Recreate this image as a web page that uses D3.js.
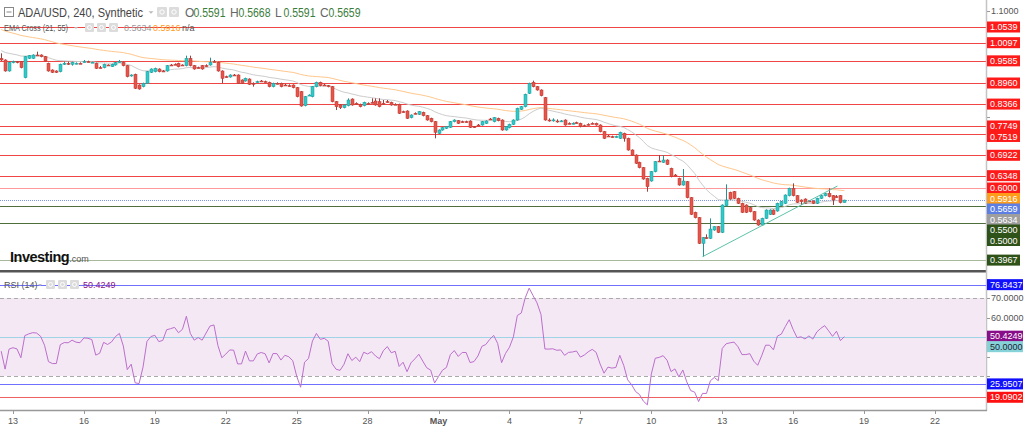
<!DOCTYPE html>
<html><head><meta charset="utf-8">
<script src="https://cdn.jsdelivr.net/npm/d3@7"></script>
<style>
body{margin:0;background:#fff;overflow:hidden}
svg{display:block;font-family:"Liberation Sans",Arial,sans-serif}
</style>
</head><body>
<svg id="c" width="1024" height="427"></svg>
<script>
// ---------------- DATA ----------------
const firstCandle = Date.UTC(2022, 3, 12, 12); // 4h candles
const candleHours = 4;
const open = [.9656,.9609,.9299,.9543,.9562,.9562,.9111,.9656,.9656,.9750,
.9750,.9703,.9515,.9327,.9299,.9280,.9506,.9515,.9487,.9515,
.9515,.9543,.9562,.9543,.9515,.9393,.9393,.9468,.9421,.9468,
.9543,.9543,.9449,.9167,.9205,.8904,.8857,.8951,.9261,.9280,
.9355,.9299,.9299,.9468,.9487,.9515,.9468,.9449,.9656,.9449,
.9393,.9449,.9449,.9468,.9562,.9543,.9299,.9139,.9130,.9186,
.9186,.9045,.9017,.9073,.8951,.8979,.9017,.8998,.8979,.8857,
.8951,.8951,.8904,.8885,.8904,.8829,.8716,.8321,.8603,.8575,
.8857,.8979,.8904,.8885,.8857,.8434,.8340,.8265,.8321,.8509,
.8387,.8359,.8321,.8387,.8415,.8453,.8434,.8387,.8434,.8415,
.8359,.8359,.8152,.8171,.7983,.8105,.8077,.8133,.8039,
.7964,.7870,.7541,.7635,.7682,.7710,.7870,.7898,.7870,.7870,
.7889,.7729,.7776,.7776,.7823,.7945,.7870,.7964,.7917,.7635,
.7701,.7795,.7917,.8218,.8293,.8669,.8979,.8857,.8763,.8547,
.7917,.7917,.7889,.7889,.7917,.7823,.7823,.7842,.7823,.7757,
.7795,.7823,.7823,.7776,.7588,.7466,.7447,.7447,.7400,.7541,
.7400,.7071,.6930,.6723,.6573,.6272,.6197,.6460,.6761,.6723,
.6789,.6554,.6366,.6272,.6084,.6178,.5727,.5313,.5163,.4439,
.4599,.4580,.4815,.4909,.4749,.5501,.5877,.5896,.5708,.5567,
.5520,.5445,.5332,.5097,.4956,.5144,.5257,.5379,.5351,.5501,
.5567,.5783,.5990,.5783,.5661,.5689,.5633,.5633,.5567,.5708,
.5783,.5849,.5783,.5755,.5783,.5591];
const high = [.9797,.9628,.9562,.9590,.9581,.9581,.9722,.9750,.9769,.9844,
.9769,.9722,.9534,.9346,.9318,.9506,.9562,.9562,.9562,.9543,
.9543,.9609,.9590,.9562,.9534,.9440,.9506,.9487,.9506,.9552,
.9609,.9562,.9468,.9205,.9224,.8923,.8970,.9299,.9374,.9393,
.9374,.9327,.9468,.9496,.9515,.9534,.9487,.9731,.9731,.9468,
.9421,.9468,.9487,.9675,.9609,.9562,.9318,.9167,.9205,.9214,
.9205,.9064,.9111,.9092,.8979,.9026,.9045,.9026,.8998,.8970,
.8979,.8970,.8932,.8923,.8923,.8848,.8735,.8594,.8641,.8876,
.8998,.8998,.8932,.8904,.8876,.8453,.8359,.8359,.8528,.8528,
.8415,.8378,.8434,.8415,.8528,.8528,.8528,.8481,.8481,.8434,
.8387,.8378,.8180,.8190,.8077,.8133,.8171,.8152,.8058,
.7983,.7889,.7654,.7720,.7748,.7889,.7936,.7917,.7898,.7898,
.7908,.7748,.7804,.7889,.7908,.7974,.8002,.7983,.7936,.7748,
.7814,.7936,.8265,.8312,.8660,.8970,.9026,.8876,.8782,.8566,
.7964,.7964,.7936,.7917,.7936,.7851,.7851,.7870,.7842,.7786,
.7823,.7851,.7842,.7795,.7607,.7494,.7475,.7475,.7588,.7560,
.7419,.7090,.6949,.6742,.6592,.6291,.6479,.6761,.6930,.6930,
.6808,.6573,.6394,.6291,.6535,.6197,.5746,.5332,.5182,.4618,
.4693,.5144,.4927,.4927,.5539,.6103,.5896,.5915,.5727,.5586,
.5539,.5464,.5351,.5116,.5163,.5398,.5398,.5398,.5586,.5633,
.5821,.6009,.6131,.5802,.5680,.5708,.5661,.5652,.5727,.5802,
.5858,.5990,.5802,.5802,.5802,.5668];
const low = [.9581,.9280,.9280,.9515,.9515,.9374,.9092,.9637,.9637,.9722,
.9684,.9562,.9280,.9242,.9242,.9261,.9468,.9468,.9449,.9487,
.9496,.9534,.9543,.9524,.9355,.9374,.9374,.9449,.9412,.9449,
.9534,.9430,.9120,.9139,.8791,.8772,.8838,.8932,.9242,.9261,
.9261,.9280,.9280,.9449,.9468,.9402,.9449,.9430,.9430,.9336,
.9374,.9336,.9421,.9449,.9543,.9280,.8951,.9111,.9111,.9158,
.8932,.8932,.8998,.8904,.8857,.8970,.8998,.8979,.8838,.8838,
.8923,.8838,.8876,.8857,.8810,.8556,.8293,.8302,.8594,.8556,
.8838,.8866,.8885,.8838,.8415,.8199,.8227,.8246,.8302,.8321,
.8359,.8274,.8302,.8359,.8387,.8321,.8274,.8359,.8406,.8321,
.8340,.8086,.8124,.7945,.7964,.8077,.8058,.8020,.7898,
.7851,.7400,.7522,.7616,.7663,.7691,.7851,.7804,.7842,.7842,
.7691,.7691,.7748,.7757,.7804,.7917,.7851,.7879,.7616,.7616,
.7682,.7776,.7898,.8199,.8274,.8650,.8838,.8744,.8584,.7898,
.7870,.7870,.7842,.7861,.7757,.7795,.7795,.7814,.7710,.7729,
.7767,.7795,.7757,.7569,.7381,.7438,.7419,.7419,.7381,.7306,
.7052,.6911,.6676,.6554,.6234,.5896,.6178,.6441,.6733,.6704,
.6648,.6300,.6338,.6065,.6065,.5708,.5238,.5144,.4420,.4063,
.4561,.4561,.4796,.4730,.4730,.5482,.5670,.5689,.5548,.5294,
.5294,.5313,.5078,.4937,.4937,.5125,.5238,.5238,.5332,.5482,
.5548,.5764,.5764,.5577,.5520,.5548,.5605,.5548,.5548,.5689,
.5764,.5736,.5520,.5727,.5567,.5591];
const close = [.9609,.9299,.9543,.9562,.9543,.9393,.9703,.9731,.9750,.9745,
.9703,.9581,.9299,.9261,.9261,.9487,.9515,.9512,.9543,.9518,
.9512,.9562,.9558,.9546,.9374,.9390,.9487,.9465,.9487,.9534,
.9562,.9449,.9139,.9186,.8810,.8791,.8951,.9280,.9355,.9374,
.9280,.9296,.9449,.9465,.9484,.9421,.9465,.9656,.9449,.9355,
.9390,.9355,.9446,.9543,.9558,.9299,.9092,.9136,.9186,.9183,
.8951,.8951,.9092,.8923,.8923,.8998,.9014,.8995,.8857,.8951,
.8948,.8857,.8901,.8882,.8829,.8575,.8312,.8575,.8620,.8857,
.8979,.8885,.8901,.8857,.8434,.8293,.8265,.8340,.8481,.8340,
.8384,.8293,.8415,.8384,.8412,.8340,.8293,.8384,.8431,.8340,
.8356,.8105,.8149,.7964,.8058,.8102,.8152,.8039,.7917,
.7870,.7569,.7635,.7701,.7729,.7870,.7917,.7823,.7867,.7866,
.7710,.7720,.7773,.7870,.7889,.7942,.7983,.7898,.7635,.7729,
.7795,.7917,.8246,.8293,.8641,.8951,.8857,.8763,.8603,.7917,
.7914,.7920,.7886,.7892,.7776,.7820,.7826,.7839,.7729,.7754,
.7792,.7820,.7776,.7588,.7400,.7463,.7444,.7450,.7569,.7400,
.7071,.6930,.6695,.6573,.6253,.6037,.6460,.6742,.6758,.6789,
.6667,.6319,.6363,.6084,.6197,.5727,.5257,.5163,.4439,.4599,
.4596,.4843,.4909,.4749,.5520,.5661,.5689,.5708,.5567,.5313,
.5313,.5332,.5097,.4956,.5144,.5379,.5379,.5257,.5567,.5614,
.5802,.5990,.5783,.5595,.5614,.5567,.5630,.5567,.5708,.5783,
.5840,.5755,.5661,.5752,.5591,.5659];

// indicator seeds (values carried in from before the first visible candle)
const ema21Seed = 0.990, ema55Seed = 1.050;
const rsiSeedGain = 0.0040, rsiSeedLoss = 0.0050;

// drawn horizontal levels (price)
const levelValues = [1.0539, 1.0097, 0.9585, 0.8960, 0.8366, 0.7749, 0.7519, 0.6922, 0.6348, 0.6000, 0.5500, 0.5000, 0.3967];
const levelKinds  = ["res","res","res","res","res","res","res","res","res","resLight","sup","sup","supLight"];
// markers on price axis
const markerValues = [0.5916, 0.5659, 0.5634];
const markerKinds  = ["ema55","price","ema21"];
const lastPrice = 0.5659;
const priceTicks = [1.1, 1.0, 0.9, 0.8, 0.7, 0.6, 0.5, 0.4];

// trend line drawing
const trendDates  = [Date.UTC(2022, 4, 12, 4), Date.UTC(2022, 4, 17, 21)];
const trendPrices = [0.4063, 0.6056];

// RSI panel
const rsiLevelValues = [76.8437, 25.9507, 19.0902];
const rsiLevelKinds  = ["blue","blue","red"];
const rsiTicks = [80, 70, 60, 50, 40, 30];
const rsiLast = 50.4249;

// x axis
const tickDates  = [[3,13],[3,16],[3,19],[3,22],[3,25],[3,28],[4,1],[4,4],[4,7],[4,10],[4,13],[4,16],[4,19],[4,22]];
const tickLabels = ["13","16","19","22","25","28","May","4","7","10","13","16","19","22"];

// legends
const symbolTitle = "ADA/USD, 240, Synthetic";
const ohlcNames = ["O","H","L","C"];
const ohlcLast = ["0.5591","0.5668","0.5591","0.5659"];
const emaTitle = "EMA Cross (21, 55)";
const emaLegendValues = ["0.5634","0.5916","n/a"];
const rsiTitle = "RSI (14)";

// ---------------- DRAW ----------------
const svg = d3.select("#c");
const plotRight = 986;
const x = d3.scaleUtc().domain([Date.UTC(2022,3,13), Date.UTC(2022,4,22)]).range([13, 935]);
const y = d3.scaleLinear().domain([0.4, 1.1]).range([258.94, 10.65]);
const yr = d3.scaleLinear().domain([30, 70]).range([376, 298]);

const candles = close.map((c, i) => ({
  t: new Date(firstCandle + i * candleHours * 3600e3),
  o: open[i], h: high[i], l: low[i], c: c
}));

function ema(period, seed) {
  const k = 2 / (period + 1); let v = seed;
  return close.map(c => (v = v + k * (c - v)));
}
const e21 = ema(21, ema21Seed), e55 = ema(55, ema55Seed);
let ag = rsiSeedGain, al = rsiSeedLoss;
const rsi = close.map((c, i) => {
  const prev = i === 0 ? open[0] : close[i - 1];
  const ch = c - prev;
  ag = (ag * 13 + Math.max(ch, 0)) / 14;
  al = (al * 13 + Math.max(-ch, 0)) / 14;
  return 100 - 100 / (1 + ag / al);
});

const defs = svg.append("defs");
defs.append("clipPath").attr("id","mainClip").append("rect").attr("x",0).attr("y",0).attr("width",plotRight).attr("height",270);
defs.append("clipPath").attr("id","rsiClip").append("rect").attr("x",0).attr("y",274).attr("width",plotRight).attr("height",136);

// ----- main panel -----
const main = svg.append("g").attr("clip-path","url(#mainClip)");
const levelColor = {res:"#f04545", resLight:"#ff9a9a", sup:"#4f6e3c", supLight:"#a7b99a"};
main.selectAll("line.lvl").data(levelValues).enter().append("line")
  .attr("x1",0).attr("x2",plotRight)
  .attr("y1",d=>Math.round(y(d))+0.5).attr("y2",d=>Math.round(y(d))+0.5)
  .attr("stroke",(d,i)=>levelColor[levelKinds[i]]).attr("stroke-width",1);

main.append("line").attr("x1",0).attr("x2",plotRight)
  .attr("y1",Math.round(y(lastPrice))+0.5).attr("y2",Math.round(y(lastPrice))+0.5)
  .attr("stroke","#7c95e6").attr("stroke-width",1).attr("stroke-dasharray","1,1");

const line = d3.line().x(d=>x(d[0])).y(d=>y(d[1]));
main.append("path").datum(candles.map((d,i)=>[d.t,e55[i]])).attr("d",line)
  .attr("fill","none").attr("stroke","#ffc78c").attr("stroke-width",1);
main.append("path").datum(candles.map((d,i)=>[d.t,e21[i]])).attr("d",line)
  .attr("fill","none").attr("stroke","#cccccc").attr("stroke-width",1);

const cg = main.append("g");
const cs = cg.selectAll("g").data(candles).enter().append("g");
cs.append("line")
  .attr("x1",d=>Math.round(x(d.t))+0.5).attr("x2",d=>Math.round(x(d.t))+0.5)
  .attr("y1",d=>y(d.h)).attr("y2",d=>y(d.l))
  .attr("stroke",d=>d.c>=d.o?"#2b8f8f":"#9a4040").attr("stroke-width",1);
cs.append("rect")
  .attr("x",d=>Math.round(x(d.t))-1).attr("width",3)
  .attr("y",d=>y(Math.max(d.o,d.c)))
  .attr("height",d=>Math.max(1,Math.abs(y(d.o)-y(d.c))))
  .attr("fill",d=>d.c>=d.o?"#2ec9c9":"#e8544a")
  .attr("stroke",d=>d.c>=d.o?"#1d9a9a":"#b8372f").attr("stroke-width",0.5);

main.append("line")
  .attr("x1",x(trendDates[0])).attr("y1",y(trendPrices[0]))
  .attr("x2",x(trendDates[1])).attr("y2",y(trendPrices[1]))
  .attr("stroke","#5cc2a8").attr("stroke-width",1);

svg.append("rect").attr("x",0).attr("y",270).attr("width",plotRight).attr("height",2.5).attr("fill","#555");
svg.append("line").attr("x1",plotRight+0.5).attr("x2",plotRight+0.5).attr("y1",0).attr("y2",411)
  .attr("stroke","#c4c4c4").attr("stroke-width",1.5);

const logo = svg.append("text").attr("x",10).attr("y",262);
logo.append("tspan").text("Investing").attr("font-size",14.5).attr("font-weight","bold").attr("fill","#111").attr("letter-spacing",-0.5);
logo.append("tspan").text(".com").attr("font-size",9).attr("fill","#555");

// ----- RSI panel -----
const rp = svg.append("g").attr("clip-path","url(#rsiClip)");
rp.append("rect").attr("x",0).attr("width",plotRight).attr("y",yr(70)).attr("height",yr(30)-yr(70)).attr("fill","#f4e8f4");
rp.selectAll("line.dash").data([70,30]).enter().append("line")
  .attr("x1",0).attr("x2",plotRight).attr("y1",d=>Math.round(yr(d))+0.5).attr("y2",d=>Math.round(yr(d))+0.5)
  .attr("stroke","#aaaaaa").attr("stroke-dasharray","4,3");
rp.append("line").attr("x1",0).attr("x2",plotRight).attr("y1",Math.round(yr(50))+0.5).attr("y2",Math.round(yr(50))+0.5)
  .attr("stroke","#9fd3e6").attr("stroke-width",1);
const rsiLevelColor = {blue:"#7070ff", red:"#f06060"};
rp.selectAll("line.rl").data(rsiLevelValues).enter().append("line")
  .attr("x1",0).attr("x2",plotRight).attr("y1",d=>Math.round(yr(d))+0.5).attr("y2",d=>Math.round(yr(d))+0.5)
  .attr("stroke",(d,i)=>rsiLevelColor[rsiLevelKinds[i]]).attr("stroke-width",1.2);
rp.append("path").datum(candles.map((d,i)=>[d.t,rsi[i]]))
  .attr("d",d3.line().x(d=>x(d[0])).y(d=>yr(d[1])))
  .attr("fill","none").attr("stroke","#bb6fcc").attr("stroke-width",1);

// x axis
svg.append("line").attr("x1",0).attr("x2",plotRight+1).attr("y1",410.5).attr("y2",410.5).attr("stroke","#999").attr("stroke-width",1.5);
const tdates = tickDates.map(d=>Date.UTC(2022,d[0],d[1]));
svg.selectAll("line.xt").data(tdates).enter().append("line")
  .attr("x1",d=>Math.round(x(d))+0.5).attr("x2",d=>Math.round(x(d))+0.5).attr("y1",411).attr("y2",414)
  .attr("stroke","#999");
svg.selectAll("text.xl").data(tdates).enter().append("text")
  .attr("x",d=>x(d)).attr("y",424).attr("text-anchor","middle")
  .attr("font-size",9).attr("fill","#555")
  .attr("font-weight",(d,i)=>tickLabels[i]==="May"?"bold":"normal")
  .text((d,i)=>tickLabels[i]);

// ----- axis labels with collision stacking -----
const fmt4 = d3.format(".4f");
function stackLabels(items, sc, gap) {
  items.sort((a,b)=>sc(a.v)-sc(b.v));
  let last = -1e9;
  items.forEach(it=>{ it.yy = Math.max(sc(it.v), last + gap); last = it.yy; });
  return items;
}
const pItems = stackLabels(levelValues.map((v,i)=>({v, kind:levelKinds[i]}))
  .concat(markerValues.map((v,i)=>({v, kind:markerKinds[i]}))), y, 10.5);
const rItems = stackLabels(rsiLevelValues.map((v,i)=>({v, kind:rsiLevelKinds[i]}))
  .concat([{v:rsiLast, kind:"last"},{v:50, kind:"mid"}]), yr, 10.5);

function axisTicks(vals, sc, lo, hi, labels) {
  vals.forEach(v=>{
    const yy = sc(v); if (yy<lo||yy>hi) return;
    svg.append("line").attr("x1",plotRight+1).attr("x2",plotRight+4).attr("y1",Math.round(yy)+0.5).attr("y2",Math.round(yy)+0.5).attr("stroke","#999");
    if (labels.some(l=>Math.abs(l.yy-yy)<10)) return;
    svg.append("text").attr("x",plotRight+5).attr("y",yy+3.2).attr("font-size",9).attr("fill","#555").text(fmt4(v));
  });
}
axisTicks(priceTicks, y, 5, 268, pItems);
axisTicks(rsiTicks, yr, 274, 405, rItems);

const priceLabelStyle = {
  res:{bg:"#ff1a1a",fg:"#fff"}, resLight:{bg:"#ff1a1a",fg:"#fff"},
  sup:{bg:"#2f5219",fg:"#fff"}, supLight:{bg:"#2f5219",fg:"#fff"},
  ema55:{bg:"#ff9c1a",fg:"#fff"}, price:{bg:"#5d7fe3",fg:"#fff"}, ema21:{bg:"#9e9e9e",fg:"#fff"}
};
pItems.forEach(it=>{
  const st = priceLabelStyle[it.kind];
  svg.append("rect").attr("x",plotRight+1).attr("y",it.yy-5.5).attr("width",33).attr("height",11).attr("fill",st.bg);
  svg.append("text").attr("x",plotRight+4).attr("y",it.yy+3.2).attr("font-size",9).attr("fill",st.fg).text(fmt4(it.v));
});
const rsiLabelStyle = {blue:{bg:"#1010ff",fg:"#fff"}, red:{bg:"#ff1010",fg:"#fff"},
  last:{bg:"#880d88",fg:"#fff"}, mid:{bg:"#86d2d9",fg:"#223"}};
rItems.forEach(it=>{
  const st = rsiLabelStyle[it.kind];
  svg.append("rect").attr("x",plotRight+1).attr("y",it.yy-5.5).attr("width",36).attr("height",11).attr("fill",st.bg);
  svg.append("text").attr("x",plotRight+4).attr("y",it.yy+3.2).attr("font-size",9).attr("fill",st.fg).text(fmt4(it.v));
});

// ----- legends -----
function iconBox(xx, yy, s) {
  svg.append("rect").attr("x",xx).attr("y",yy).attr("width",s).attr("height",s).attr("rx",1).attr("fill","#dcdcdc");
  svg.append("circle").attr("cx",xx+s/2).attr("cy",yy+s/2).attr("r",s*0.22).attr("fill","none").attr("stroke","#fff").attr("stroke-width",1);
}
function caret(cx, cy, s) {
  svg.append("path").attr("d",`M${cx-s},${cy-s/2}L${cx+s},${cy-s/2}L${cx},${cy+s/2}Z`).attr("fill","#bbb");
}
svg.append("rect").attr("x",4.5).attr("y",7.5).attr("width",9).attr("height",9).attr("fill","none").attr("stroke","#888");
svg.append("line").attr("x1",6.5).attr("x2",11.5).attr("y1",12).attr("y2",12).attr("stroke","#888");
svg.append("text").attr("x",18).attr("y",17).attr("font-size",12.5).attr("fill","#444")
  .attr("textLength",125).attr("lengthAdjust","spacingAndGlyphs").text(symbolTitle);
caret(151, 12.5, 2.5);
iconBox(157, 7, 10); iconBox(169, 7, 10);
const ohlcX = [185, 230, 275, 320];
ohlcNames.forEach((n,i)=>{
  svg.append("text").attr("x",ohlcX[i]).attr("y",17).attr("font-size",12).attr("fill","#666").text(n);
  svg.append("text").attr("x",ohlcX[i]+8.5).attr("y",17).attr("font-size",12)
    .attr("textLength",32).attr("lengthAdjust","spacingAndGlyphs").attr("fill","#3b7d3b").text(ohlcLast[i]);
});
svg.append("text").attr("x",4).attr("y",31).attr("font-size",9).attr("fill","#555")
  .attr("textLength",64).attr("lengthAdjust","spacingAndGlyphs").text(emaTitle);
caret(76, 28, 2);
iconBox(85, 23, 9); iconBox(97, 23, 9); iconBox(109, 23, 9);
const emaLegX = [124, 153, 182], emaLegCol = ["#9a9a9a","#ff9c1a","#555"];
emaLegendValues.forEach((t,i)=>svg.append("text").attr("x",emaLegX[i]).attr("y",31).attr("font-size",9).attr("fill",emaLegCol[i]).text(t));
svg.append("text").attr("x",4).attr("y",288).attr("font-size",9).attr("fill","#555").text(rsiTitle);
caret(40, 285, 2);
iconBox(46, 280, 9); iconBox(58, 280, 9); iconBox(70, 280, 9);
svg.append("text").attr("x",83).attr("y",288).attr("font-size",9).attr("fill","#8a108a").text(fmt4(rsiLast));
</script>
</body></html>
